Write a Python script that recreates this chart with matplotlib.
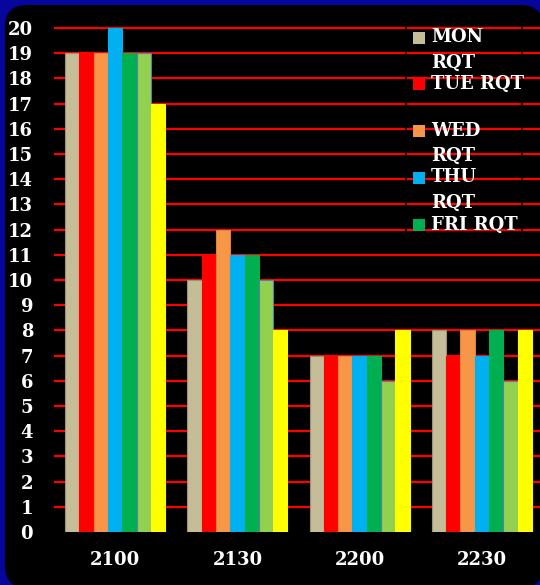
import matplotlib
matplotlib.use("Agg")
import matplotlib.pyplot as plt
from matplotlib.patches import FancyBboxPatch, Rectangle
from matplotlib.transforms import IdentityTransform
import numpy as np

categories = ["2100", "2130", "2200", "2230"]
series_names = ["MON RQT", "TUE RQT", "WED RQT", "THU RQT", "FRI RQT", "SAT RQT", "SUN RQT"]
legend_labels = ["MON\nRQT", "TUE RQT", "WED\nRQT", "THU\nRQT", "FRI RQT"]
mon = [19, 10, 7, 8]
tue = [19, 11, 7, 7]
wed = [19, 12, 7, 8]
thu = [20, 11, 7, 7]
fri = [19, 11, 7, 8]
sat = [19, 10, 6, 6]
sun = [17, 8, 8, 8]
values = [mon, tue, wed, thu, fri, sat, sun]
colors = ["#C4BD97", "#FF0000", "#F79646", "#00B0F0", "#00B050", "#92D050", "#FFFF00"]
edges = ["#9c9474", "#FF0000", "#e0843c", "#00B0F0", "#00B050", "#5a7fa8", "#FFFF00"]
yticks = list(range(0, 21))

W, H = 540, 585
fig = plt.figure(figsize=(W / 100, H / 100), dpi=100)
fig.patch.set_facecolor("#06069c")

# black rounded panel (pixel coords)
panel = FancyBboxPatch((5, -3), 538, H - 5 + 3,
                       boxstyle="round,pad=0,rounding_size=22",
                       transform=IdentityTransform(), facecolor="black",
                       edgecolor="none", zorder=-5)
fig.patches.append(panel)

ymax = 20.4
px_per_unit = 25.2
ax_left, ax_right, ax_bottom = 54, 543, 532
ax_h = ymax * px_per_unit
ax = fig.add_axes([ax_left / W, 1 - ax_bottom / H, (ax_right - ax_left) / W, ax_h / H])
ax.set_facecolor("none")
ax.set_zorder(1)

x = np.arange(len(categories))
n = len(values)
bw = 0.82 / n
for i, (vals, c, e) in enumerate(zip(values, colors, edges)):
    ax.bar(x + (i - (n - 1) / 2) * bw, vals, width=bw, color=c, edgecolor=e,
           linewidth=0.8, zorder=3)

ax.set_xlim(-0.5, 3.5)
ax.set_ylim(0, ymax)
ax.set_yticks(yticks)
ax.set_xticks(x)
ax.set_xticklabels(categories)
ax.grid(axis="y", color="#FF0000", linewidth=1.6, zorder=1)
ax.set_axisbelow(True)
ax.yaxis.get_gridlines()[0].set_visible(False)
for s in ax.spines.values():
    s.set_visible(False)
ax.tick_params(axis="both", length=0, colors="white", labelsize=13)
ax.tick_params(axis="y", pad=15)
ax.tick_params(axis="x", pad=14)
for lab in ax.get_xticklabels() + ax.get_yticklabels():
    lab.set_fontfamily("DejaVu Serif")
    lab.set_fontweight("bold")

# legend (manual, matching layout)
frame = Rectangle((406, H - 245), 116, 225, transform=IdentityTransform(),
                  facecolor="none", edgecolor="black", linewidth=1.2, zorder=4)
fig.patches.append(frame)
entry_y = [37.5, 84, 130.5, 177.5, 225]
for lab, c, ey in zip(legend_labels, colors, entry_y):
    fig.patches.append(Rectangle((413, H - ey - 6), 12, 12, transform=IdentityTransform(),
                                 facecolor=c, edgecolor="none", zorder=5))
    fig.text(431 / W, 1 - (ey - 9) / H, lab, color="white", fontsize=13,
             fontfamily="DejaVu Serif", fontweight="bold", va="top", ha="left",
             linespacing=1.55, zorder=6)

fig.savefig("out.png", dpi=100, facecolor=fig.get_facecolor())
